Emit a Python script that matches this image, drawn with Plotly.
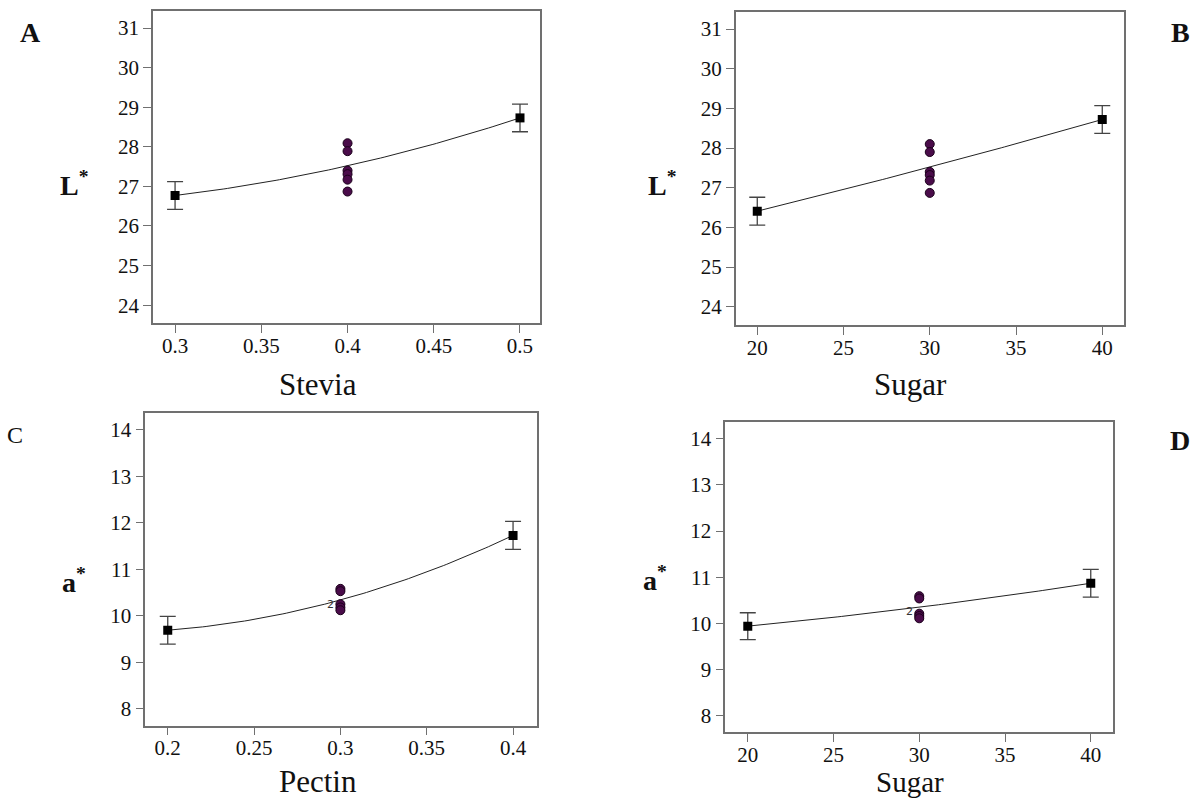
import numpy as np
import plotly.graph_objects as go

# ---------------- data ----------------
stevia_levels = [0.3, 0.4, 0.5]
A_fit = [26.77, 27.52, 28.73]
A_err = [0.35, 0.35]
A_center_pts = [28.09, 27.89, 27.40, 27.31, 27.17, 26.87]

sugar_levels = [20, 30, 40]
B_fit = [26.41, 27.52, 28.72]
B_err = [0.35, 0.35]
B_center_pts = [28.10, 27.90, 27.40, 27.32, 27.18, 26.87]

pectin_levels = [0.2, 0.3, 0.4]
C_fit = [9.69, 10.34, 11.73]
C_err = [0.30, 0.30]
C_center_pts = [10.58, 10.53, 10.25, 10.18, 10.12]

D_fit = [9.94, 10.35, 10.87]
D_err = [0.29, 0.30]
D_center_pts = [10.59, 10.54, 10.21, 10.16, 10.11]

A_xticks = [0.3, 0.35, 0.4, 0.45, 0.5]
A_xticklabels = ["0.3", "0.35", "0.4", "0.45", "0.5"]
C_xticks = [0.2, 0.25, 0.3, 0.35, 0.4]
C_xticklabels = ["0.2", "0.25", "0.3", "0.35", "0.4"]
sugar_ticks = [20, 25, 30, 35, 40]
L_yticks = [24, 25, 26, 27, 28, 29, 30, 31]
a_yticks = [8, 9, 10, 11, 12, 13, 14]

FONT = "Liberation Serif"
AXCOL = "#707070"

fig = go.Figure()

panels = [
    (stevia_levels, A_fit, A_err, A_center_pts, ""),
    (sugar_levels, B_fit, B_err, B_center_pts, "2"),
    (pectin_levels, C_fit, C_err, C_center_pts, "3"),
    (sugar_levels, D_fit, D_err, D_center_pts, "4"),
]

for lv, fit, err, pts, sfx in panels:
    xa = "x" + sfx
    ya = "y" + sfx
    coef = np.polyfit(lv, fit, 2)
    xs = np.linspace(lv[0], lv[-1], 100)
    fig.add_trace(go.Scatter(x=xs, y=np.polyval(coef, xs), mode="lines",
                             line=dict(color="#222222", width=1),
                             xaxis=xa, yaxis=ya, showlegend=False, hoverinfo="skip"))
    fig.add_trace(go.Scatter(x=[lv[1]] * len(pts), y=pts, mode="markers",
                             marker=dict(symbol="circle", size=9, color="#4a0c4a",
                                         line=dict(color="#1a001a", width=1)),
                             xaxis=xa, yaxis=ya, showlegend=False))
    fig.add_trace(go.Scatter(x=[lv[0], lv[2]], y=[fit[0], fit[2]], mode="markers",
                             marker=dict(symbol="square", size=9, color="black"),
                             error_y=dict(type="data", array=err, visible=True,
                                          color="#444444", thickness=1.3, width=8),
                             xaxis=xa, yaxis=ya, showlegend=False))

TICKFONT = dict(family=FONT, size=21, color="#111111")

def xaxis(domain, rng, tv, tt, anchor):
    return dict(domain=domain, range=rng, tickvals=tv, ticktext=tt, anchor=anchor,
                showgrid=False, zeroline=False, showline=True, linecolor=AXCOL,
                linewidth=1.5, mirror=True, ticks="outside", ticklen=8,
                tickcolor=AXCOL, tickwidth=1.3, tickfont=TICKFONT,
                ticklabelstandoff=-5)

def yaxis(domain, rng, tv, anchor):
    return dict(domain=domain, range=rng, tickvals=tv, anchor=anchor,
                showgrid=False, zeroline=False, showline=True, linecolor=AXCOL,
                linewidth=1.5, mirror=True, ticks="outside", ticklen=8,
                tickcolor=AXCOL, tickwidth=1.3, tickfont=TICKFONT)

fig.update_layout(
    font=dict(family=FONT, size=21, color="#111111"),
    xaxis=xaxis([0.12771, 0.45075], [0.2872, 0.5116], A_xticks, A_xticklabels, "y"),
    yaxis=yaxis([0.59625, 0.98625], [23.55, 31.43], L_yticks, "x"),
    xaxis2=xaxis([0.61411, 0.93823], [18.75, 41.26], sugar_ticks, [str(v) for v in sugar_ticks], "y2"),
    yaxis2=yaxis([0.59375, 0.985], [23.54, 31.43], L_yticks, "x2"),
    xaxis3=xaxis([0.12129, 0.44800], [0.187, 0.4137], C_xticks, C_xticklabels, "y3"),
    yaxis3=yaxis([0.093125, 0.484125], [7.64, 14.37], a_yticks, "x3"),
    xaxis4=xaxis([0.60543, 0.92880], [18.69, 41.28], sugar_ticks, [str(v) for v in sugar_ticks], "y4"),
    yaxis4=yaxis([0.084625, 0.472875], [7.64, 14.37], a_yticks, "x4"),
)

annots = []
def txt(x, y, s, size, bold=False, family=FONT, color="#111111"):
    annots.append(dict(x=x / 1198, y=1 - y / 800, xref="paper", yref="paper",
                       text=("<b>%s</b>" % s) if bold else s, showarrow=False,
                       font=dict(family=family, size=size, color=color),
                       xanchor="center", yanchor="middle"))

# x axis titles
txt(318, 384, "Stevia", 31)
txt(910, 384, "Sugar", 31)
txt(318, 781, "Pectin", 31)
txt(910, 782, "Sugar", 29)
# y axis titles
txt(74, 183, "L<sup>*</sup>", 28, bold=True)
txt(662, 183, "L<sup>*</sup>", 28, bold=True)
txt(74, 580, "a<sup>*</sup>", 28, bold=True)
txt(655, 578, "a<sup>*</sup>", 28, bold=True)
# panel letters
txt(30, 32, "A", 28, bold=True)
txt(1180, 32, "B", 28, bold=True)
txt(15, 435, "C", 24)
txt(1180, 440, "D", 28, bold=True)

fig.update_layout(annotations=annots)

# duplicate-point labels "2"
fig.add_annotation(x=0.3, y=10.25, xref="x3", yref="y3", text="2", showarrow=False,
                   xshift=-10, font=dict(family="DejaVu Sans", size=11, color="#333333"))
fig.add_annotation(x=30, y=10.25, xref="x4", yref="y4", text="2", showarrow=False,
                   xshift=-10, font=dict(family="DejaVu Sans", size=11, color="#333333"))

fig.update_layout(width=1198, height=800, margin=dict(l=0, r=0, t=0, b=0),
                  paper_bgcolor="white", plot_bgcolor="white", showlegend=False)

fig.write_html("out.html", config={"displayModeBar": False},
               post_script="document.body.style.margin='0';document.body.style.overflow='hidden';")
